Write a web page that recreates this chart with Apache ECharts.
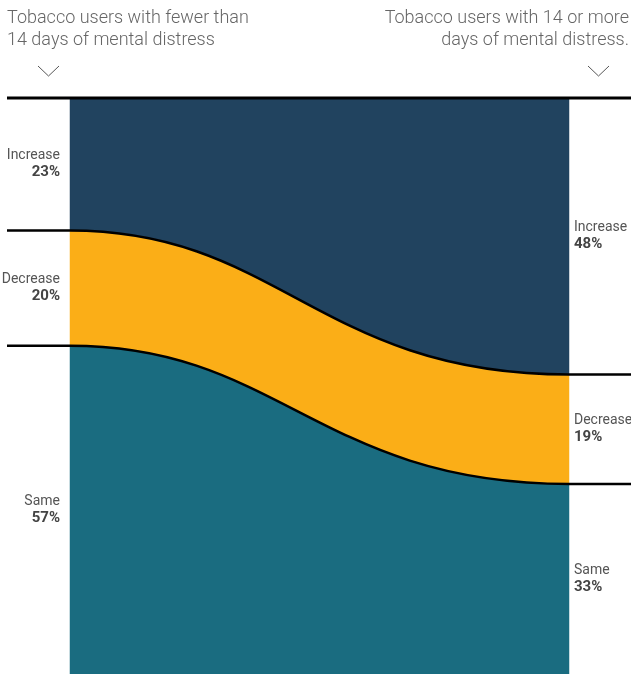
<!DOCTYPE html>
<html>
<head>
<meta charset="utf-8">
<script src="https://cdn.jsdelivr.net/npm/echarts@6/dist/echarts.min.js"></script>
<style>
html,body{margin:0;padding:0;background:#fff;}
#chart{width:631px;height:674px;}
</style>
</head>
<body>
<div id="chart"></div>
<script>
// ---- data ----
const groups = ['Tobacco users with fewer than\n14 days of mental distress', 'Tobacco users with 14 or more\ndays of mental distress.'];
const bands = ['Increase', 'Decrease', 'Same'];
const leftValues = [23, 20, 57];
const rightValues = [48, 19, 33];
const bandColors = ['#21435f', '#fbae17', '#1a6c80'];

function cumulative(arr) {
  const out = [0];
  arr.forEach(v => out.push(out[out.length - 1] + v));
  return out;
}
const cumL = cumulative(leftValues);
const cumR = cumulative(rightValues);

const chart = echarts.init(document.getElementById('chart'), null, {renderer: 'canvas'});
const FONT = 'Roboto, sans-serif';

// S-shaped connection between the left and right stack boundaries
function curve(x0, y0, x1, y1) {
  const dx = x1 - x0;
  const c1 = x0 + dx * 0.42, c2 = x1 - dx * 0.5;
  return 'C' + c1 + ',' + y0 + ' ' + c2 + ',' + y1 + ' ' + x1 + ',' + y1;
}
function curveBack(x1, y1, x0, y0) {
  const dx = x1 - x0;
  const c2 = x1 - dx * 0.5, c1 = x0 + dx * 0.42;
  return 'C' + c2 + ',' + y1 + ' ' + c1 + ',' + y0 + ' ' + x0 + ',' + y0;
}

const rich = {
  n: {fontFamily: FONT, fontSize: 14, fill: '#555', lineHeight: 17, fontWeight: 400},
  v: {fontFamily: FONT, fontSize: 15, fill: '#444', lineHeight: 17, fontWeight: 700}
};

const option = {
  animation: false,
  grid: {left: 70, right: 62, top: 98, bottom: 0},
  xAxis: {type: 'category', data: groups, boundaryGap: false, show: false},
  yAxis: {type: 'value', min: 0, max: 100, inverse: true, show: false},
  series: [
    {
      type: 'custom',
      clip: false,
      data: bands.map((b, i) => [i]),
      renderItem: function (params, api) {
        const i = api.value(0);
        const lt = api.coord([0, cumL[i]]), lb = api.coord([0, cumL[i + 1]]);
        const rt = api.coord([1, cumR[i]]), rb = api.coord([1, cumR[i + 1]]);
        const d = 'M' + lt[0] + ',' + lt[1] + curve(lt[0], lt[1], rt[0], rt[1]) +
          'L' + rb[0] + ',' + rb[1] + curveBack(rb[0], rb[1], lb[0], lb[1]) + 'Z';
        const lm = (lt[1] + lb[1]) / 2, rm = (rt[1] + rb[1]) / 2;
        return {
          type: 'group',
          children: [
            {type: 'path', shape: {pathData: d}, style: {fill: bandColors[i], stroke: bandColors[i], lineWidth: 0.5}},
            {type: 'text', style: {text: '{n|' + bands[i] + '}\n{v|' + leftValues[i] + '%}', x: lt[0] - 10, y: lm, align: 'right', verticalAlign: 'middle', rich: rich}},
            {type: 'text', style: {text: '{n|' + bands[i] + '}\n{v|' + rightValues[i] + '%}', x: rt[0] + 5, y: rm, align: 'left', verticalAlign: 'middle', rich: rich}}
          ]
        };
      }
    },
    {
      type: 'custom',
      clip: false,
      data: [0, 1, 2].map(j => [j]),
      renderItem: function (params, api) {
        const j = api.value(0);
        const l = api.coord([0, cumL[j]]);
        const r = api.coord([1, cumR[j]]);
        const d = 'M' + (l[0] - 63) + ',' + l[1] + 'L' + l[0] + ',' + l[1] +
          curve(l[0], l[1], r[0], r[1]) + 'L' + (r[0] + 62) + ',' + r[1];
        return {type: 'path', shape: {pathData: d}, style: {fill: null, stroke: '#000', lineWidth: j === 0 ? 3 : 2.5}};
      }
    }
  ],
  graphic: [
    {type: 'text', x: 7, y: 7, style: {text: groups[0], fontFamily: FONT, fontSize: 18, fontWeight: 300, lineHeight: 22, fill: '#666', align: 'left', verticalAlign: 'top'}},
    {type: 'text', x: 629, y: 7, style: {text: groups[1], fontFamily: FONT, fontSize: 18, fontWeight: 300, lineHeight: 22, fill: '#666', align: 'right', verticalAlign: 'top'}},
    {type: 'polyline', shape: {points: [[38, 66], [48.5, 76], [59, 66]]}, style: {stroke: '#555', lineWidth: 1, fill: null}},
    {type: 'polyline', shape: {points: [[588, 66], [598.5, 76], [609, 66]]}, style: {stroke: '#555', lineWidth: 1, fill: null}}
  ]
};
chart.setOption(option);
</script>
</body>
</html>
